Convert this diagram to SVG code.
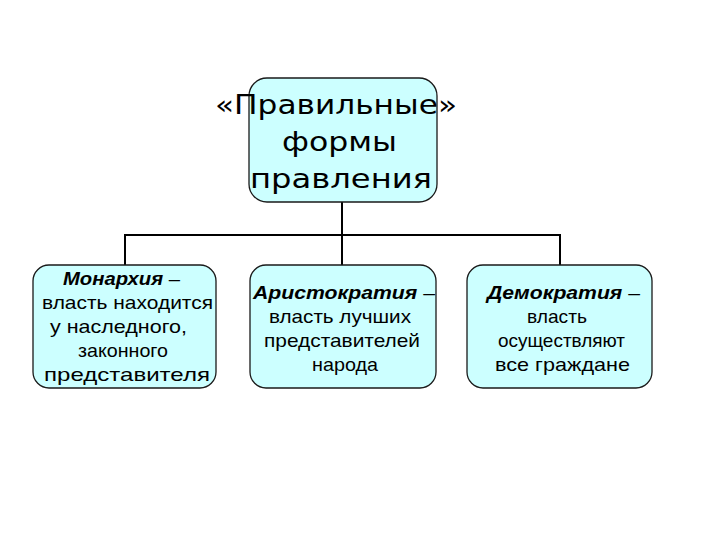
<svg xmlns="http://www.w3.org/2000/svg" width="720" height="540" viewBox="0 0 720 540">
<style>
.box{fill:#ccffff;stroke:#1a1a1a;stroke-width:1.3}
.t{font-family:"DejaVu Sans",sans-serif;font-size:27px;fill:#000}
.s{font-family:"Liberation Sans",Arial,sans-serif;font-size:19px;fill:#000}
.b{font-weight:bold;font-style:italic}
.c{stroke:#000;stroke-width:2;fill:none}
</style>
<rect width="720" height="540" fill="#fff"/>
<g id="connectors">
<path class="c" d="M342 202V235M125 265V235H560V265M342 235V265"/>
</g>
<g id="root">
<rect class="box" x="249" y="78" width="188" height="124" rx="18"/>
<text class="t" x="215" y="114" textLength="242" lengthAdjust="spacingAndGlyphs">«Правильные»</text>
<text class="t" x="282" y="151" textLength="115" lengthAdjust="spacingAndGlyphs">формы</text>
<text class="t" x="250" y="188" textLength="182" lengthAdjust="spacingAndGlyphs">правления</text>
</g>
<g id="monarchy">
<rect class="box" x="33" y="265" width="183" height="123" rx="16"/>
<text class="s" x="63" y="285" textLength="117" lengthAdjust="spacingAndGlyphs"><tspan class="b">Монархия</tspan> –</text>
<text class="s" x="42" y="309" textLength="171" lengthAdjust="spacingAndGlyphs">власть находится</text>
<text class="s" x="50" y="333" textLength="137" lengthAdjust="spacingAndGlyphs">у  наследного,</text>
<text class="s" x="78" y="357" textLength="90" lengthAdjust="spacingAndGlyphs">законного</text>
<text class="s" x="44" y="381" textLength="166" lengthAdjust="spacingAndGlyphs">представителя</text>
</g>
<g id="aristocracy">
<rect class="box" x="250" y="265" width="186" height="123" rx="16"/>
<text class="s" x="253" y="299" textLength="182" lengthAdjust="spacingAndGlyphs"><tspan class="b">Аристократия</tspan> –</text>
<text class="s" x="269" y="323" textLength="142" lengthAdjust="spacingAndGlyphs">власть  лучших</text>
<text class="s" x="264" y="347" textLength="156" lengthAdjust="spacingAndGlyphs">представителей</text>
<text class="s" x="312" y="371" textLength="66" lengthAdjust="spacingAndGlyphs">народа</text>
</g>
<g id="democracy">
<rect class="box" x="467" y="265" width="185" height="123" rx="16"/>
<text class="s" x="487" y="299" textLength="153" lengthAdjust="spacingAndGlyphs"><tspan class="b">Демократия</tspan> –</text>
<text class="s" x="527" y="323" textLength="60" lengthAdjust="spacingAndGlyphs">власть</text>
<text class="s" x="498" y="347" textLength="127" lengthAdjust="spacingAndGlyphs">осуществляют</text>
<text class="s" x="495" y="371" textLength="135" lengthAdjust="spacingAndGlyphs">все граждане</text>
</g>
</svg>
